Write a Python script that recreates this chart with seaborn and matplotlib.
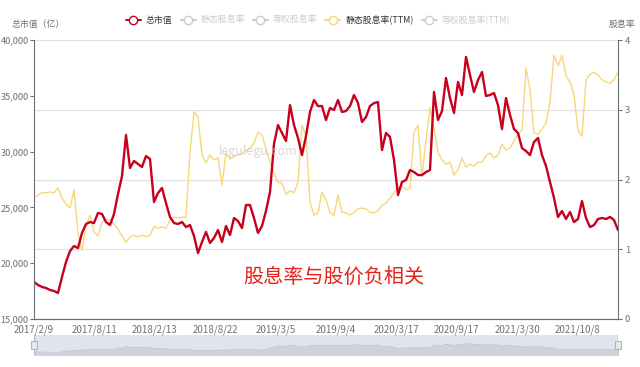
import numpy as np
import pandas as pd
import matplotlib
matplotlib.use('Agg')
import matplotlib.pyplot as plt
from matplotlib.lines import Line2D
from matplotlib.patches import Rectangle
import seaborn as sns

# total market value (亿), sampled evenly along the category axis
market_value = [
    18320, 18050, 17870, 17780, 17600, 17510, 17330, 18760, 20110, 21090,
    21540, 21360, 22710, 23510, 23690, 23600, 24500, 24410, 23690, 23420,
    24410, 26200, 27810, 31490, 28530, 29160, 28890, 28620, 29600, 29340,
    25480, 26290, 26740, 25390, 24140, 23600, 23510, 23690, 23240, 23420,
    22440, 20910, 21900, 22800, 21810, 22260, 22970, 21900, 23330, 22530,
    24050, 23780, 23150, 25210, 25210, 24050, 22710, 23330, 24680, 26380,
    30680, 32380, 31670, 30950, 34170, 32380, 31220, 29690, 31400, 33550,
    34620, 34080, 34080, 32830, 33910, 33730, 34620, 33550, 33640, 34080,
    35070, 34350, 32650, 33100, 34080, 34350, 34440, 30140, 31670, 31310,
    29250, 26110, 27280, 27450, 28350, 28170, 27900, 27900, 28170, 28350,
    35340, 32830, 33640, 36590, 34800, 33460, 36240, 35070, 38480, 36860,
    35340, 36410, 37130, 34980, 35070, 35250, 34170, 32020, 34800, 33280,
    32020, 31670, 30320, 30050, 29690, 30860, 31220, 29690, 28710, 27280,
    25840, 24140, 24680, 23960, 24590, 23690, 23960, 25570, 24050, 23240,
    23420, 23960, 24050, 23960, 24140, 23870, 22970,
]

# static dividend yield (TTM), %
dividend_ttm = [
    1.73, 1.78, 1.81, 1.81, 1.82, 1.81, 1.88, 1.73, 1.65, 1.59,
    1.85, 1.23, 0.99, 1.32, 1.49, 1.25, 1.19, 1.39, 1.43, 1.42,
    1.36, 1.29, 1.19, 1.10, 1.18, 1.20, 1.18, 1.20, 1.18, 1.20,
    1.33, 1.30, 1.32, 1.30, 1.42, 1.46, 1.45, 1.46, 1.46, 2.39,
    2.97, 2.90, 2.35, 2.24, 2.35, 2.28, 2.31, 1.92, 2.38, 2.29,
    2.34, 2.35, 2.37, 2.41, 2.45, 2.52, 2.68, 2.64, 2.44, 2.25,
    2.09, 1.96, 1.95, 1.79, 1.84, 1.81, 1.96, 2.78, 2.62, 1.68,
    1.49, 1.52, 1.82, 1.71, 1.53, 1.48, 1.78, 1.53, 1.52, 1.49,
    1.53, 1.58, 1.59, 1.58, 1.53, 1.52, 1.55, 1.63, 1.66, 1.73,
    1.81, 1.89, 1.91, 1.85, 1.88, 2.68, 2.78, 2.04, 2.57, 3.03,
    2.74, 2.39, 2.28, 2.22, 2.25, 2.06, 2.14, 2.31, 2.18, 2.22,
    2.19, 2.25, 2.25, 2.34, 2.38, 2.31, 2.35, 2.51, 2.42, 2.45,
    2.55, 2.65, 2.71, 3.60, 3.28, 2.67, 2.65, 2.72, 2.81, 3.10,
    3.78, 3.63, 3.78, 3.48, 3.40, 3.21, 2.71, 2.62, 3.43, 3.51,
    3.54, 3.50, 3.43, 3.40, 3.38, 3.43, 3.54,
]

date_labels = ['2017/2/9', '2017/8/11', '2018/2/13', '2018/8/22', '2019/3/5',
               '2019/9/4', '2020/3/17', '2020/9/17', '2021/3/30', '2021/10/8']
legend_names = ['总市值', '静态股息率', '等权股息率', '静态股息率(TTM)', '等权股息率(TTM)']

df = pd.DataFrame({'idx': np.arange(len(market_value)),
                   'value': market_value,
                   'ttm': dividend_ttm})

sns.set_style('white')
plt.rcParams['font.family'] = ['Noto Sans CJK SC', 'DejaVu Sans']

RED = '#c8001e'
YELLOW = '#f7d77a'
AXC = '#6e7079'
GRID = '#e0e0e0'

fig = plt.figure(figsize=(6.4, 3.67), dpi=100)
ax = fig.add_axes([34 / 640, 1 - 319 / 367, 584 / 640, 279 / 367])
ax_r = ax.twinx()

# yellow first so the red line sits on top
sns.lineplot(data=df, x='idx', y='ttm', ax=ax_r, color=YELLOW, linewidth=1.0)
ax_r.set_ylim(0, 4)
ax_r.set_yticks([0, 1, 2, 3, 4])
ax_r.yaxis.grid(True, color=GRID, linewidth=0.9)
ax_r.set_ylabel('')
ax_r.tick_params(axis='y', labelsize=6.8, colors=AXC, length=3, width=0.8,
                 direction='out', pad=2)

sns.lineplot(data=df, x='idx', y='value', ax=ax, color=RED, linewidth=1.7)
ax.set_ylim(15000, 40000)
ax.set_yticks(range(15000, 40001, 5000))
ax.set_yticklabels([f'{v:,}' for v in range(15000, 40001, 5000)])
ax.set_ylabel('')
ax.set_xlabel('')
ax.tick_params(axis='y', labelsize=6.6, colors=AXC, length=3, width=0.8,
               direction='out', pad=1)

ax.set_zorder(ax_r.get_zorder() + 1)
ax.patch.set_visible(False)

n = len(market_value)
step = 15.1
ax.set_xlim(0, n - 1)
ax.set_xticks([i * step for i in range(len(date_labels))])
ax.set_xticklabels(date_labels)
ax.tick_params(axis='x', labelsize=7, colors=AXC, length=3, width=0.8,
               direction='out', pad=1)

for a in (ax, ax_r):
    a.spines['top'].set_visible(False)
    for side in ('left', 'right', 'bottom'):
        a.spines[side].set_color(AXC)
        a.spines[side].set_linewidth(0.8)
ax_r.spines['left'].set_visible(False)
ax.spines['right'].set_visible(False)

# axis titles
fig.text(38 / 640, 1 - 25 / 367, '总市值（亿）', ha='center', va='center',
         fontsize=6.4, color=AXC)
fig.text(622 / 640, 1 - 25 / 367, '股息率', ha='center', va='center',
         fontsize=6.4, color=AXC)

# watermark and annotation
fig.text(258 / 640, 1 - 152 / 367, 'legulegu.com', ha='center', va='center',
         fontsize=9, color='#c8c8c8', alpha=0.7)
fig.text(334 / 640, 1 - 277 / 367, '股息率与股价负相关', ha='center', va='center',
         fontsize=14.5, color='#e5231b')

# legend
colors = [RED, '#cccccc', '#cccccc', YELLOW, '#cccccc']
handles = [Line2D([], [], color=c, marker='o', markerfacecolor='white',
                  markeredgecolor=c, markersize=6, linewidth=1.4) for c in colors]
leg = fig.legend(handles, legend_names, loc='center', ncol=5,
                 bbox_to_anchor=(318 / 640, 1 - 20 / 367), frameon=False,
                 fontsize=6.4, handlelength=1.7, handletextpad=0.55,
                 columnspacing=0.9)
for txt, c in zip(leg.get_texts(), ['#333333', '#cccccc', '#cccccc', '#333333', '#cccccc']):
    txt.set_color(c)

# data zoom slider underneath
ax_s = fig.add_axes([34 / 640, 1 - 355 / 367, 584 / 640, 20 / 367])
ax_s.set_facecolor('#dfe4ed')
ax_s.fill_between(df['idx'], 0, df['value'], color='#cdd2db', linewidth=0.6,
                  edgecolor='#c3c8d2')
ax_s.set_xlim(0, n - 1)
ax_s.set_ylim(10000, 57000)
ax_s.set_xticks([])
ax_s.set_yticks([])
for side in ax_s.spines:
    ax_s.spines[side].set_visible(False)
for xa in (0.0, 1.0):
    ax_s.axvline(xa * (n - 1), color='#a7b7cc', linewidth=1.0)
    ax_s.add_patch(Rectangle((xa - 0.005, 0.3), 0.010, 0.4,
                             transform=ax_s.transAxes, facecolor='#e6eaf0',
                             edgecolor='#a7b7cc', linewidth=0.8, clip_on=False,
                             zorder=5))

plt.savefig('out.png', dpi=100)
